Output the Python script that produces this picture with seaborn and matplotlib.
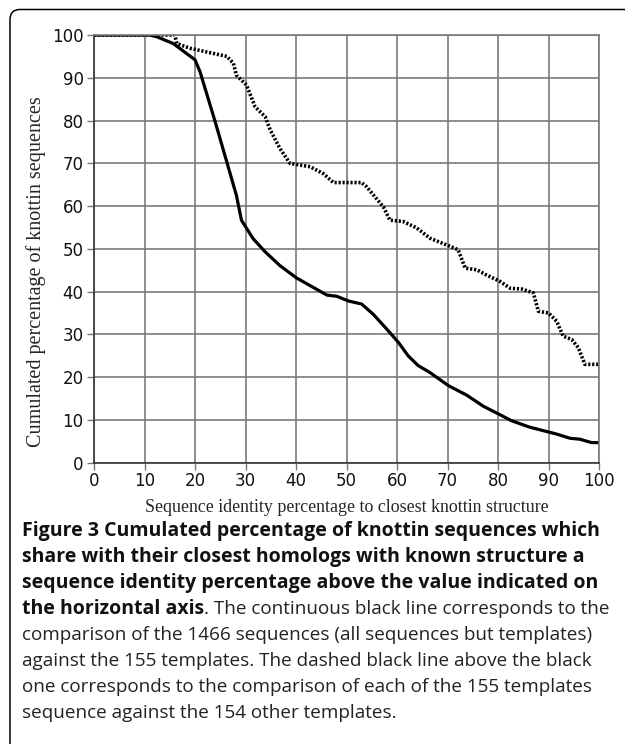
import matplotlib
matplotlib.use("Agg")
import matplotlib.pyplot as plt
import seaborn as sns
from matplotlib.path import Path
from matplotlib.patches import PathPatch
from matplotlib.transforms import IdentityTransform

# Solid line: 1466 sequences against the 155 templates
seq_identity = [0, 11, 12.4, 15.7, 18.3, 20, 21, 24, 26.3, 28.2, 29.2, 31.5, 33.9, 36.8,
                40.1, 43.4, 46.1, 48.1, 50.4, 53, 55.3, 58, 60.3, 62.2, 64.2, 66.5, 70.2,
                73.8, 77.1, 80.1, 82.7, 86.3, 89.6, 91.6, 94.3, 96.2, 98.5, 100]
seq_cumulated = [100, 100, 99.6, 98, 95.7, 94.2, 91.4, 79.7, 70.3, 62.5, 56.7, 52.4, 49.3,
                 46.1, 43.2, 41.0, 39.2, 38.9, 37.8, 37.1, 34.7, 31.2, 28.1, 25, 22.7, 21.1,
                 18, 15.8, 13.2, 11.4, 9.8, 8.3, 7.3, 6.7, 5.7, 5.5, 4.7, 4.7]

# Dotted line: each template against the 154 other templates
tpl_identity = [0, 16, 16.4, 19, 23.6, 26.3, 27.6, 28.2, 30.2, 31.9, 33.9, 34.9, 36.8, 38.8,
                42.8, 45.4, 47.4, 53, 54, 57.3, 58.6, 61.2, 63.9, 66.5, 70.5, 72.1, 73.5,
                75.8, 77.7, 80.4, 82.4, 84.7, 87, 88, 90, 91.6, 92.9, 94.6, 95.9, 97.2, 100]
tpl_cumulated = [100, 100, 98, 96.9, 95.7, 95, 93.4, 90.6, 88.3, 83.2, 80.9, 77.8, 73.5, 70,
                 69.2, 67.6, 65.5, 65.5, 64.5, 59.8, 56.7, 56.4, 54.9, 52.5, 50.6, 49.8, 45.5,
                 45.1, 43.9, 42.4, 40.8, 40.6, 39.7, 35.4, 35, 33.1, 29.6, 28.8, 26.9, 23, 23]

ticks = list(range(0, 101, 10))

sns.set_style("white")
fig = plt.figure(figsize=(6.25, 7.44), dpi=100)
ax = fig.add_axes([94 / 625, 1 - 462.7 / 744, 505 / 625, 427.7 / 744])

sns.lineplot(x=tpl_identity, y=tpl_cumulated, ax=ax, color="black", linewidth=2.6,
             estimator=None, sort=False, linestyle=(0, (0.6, 0.5)))
sns.lineplot(x=seq_identity, y=seq_cumulated, ax=ax, color="black", linewidth=2.3,
             estimator=None, sort=False)

ax.set_xlim(0, 100)
ax.set_ylim(0, 100)
ax.set_xticks(ticks)
ax.set_yticks(ticks)
ax.grid(True, color="#7a7a7a", linewidth=1.2)
ax.set_axisbelow(True)
for side in ["top", "right"]:
    ax.spines[side].set_color("#7a7a7a")
    ax.spines[side].set_linewidth(1.2)
for side in ["left", "bottom"]:
    ax.spines[side].set_color("#333333")
    ax.spines[side].set_linewidth(1.2)
ax.tick_params(axis="both", direction="out", length=5, width=1, color="#777777",
               labelsize=12, labelcolor="#111111", left=True, bottom=True)
ax.tick_params(axis="x", pad=2)
ax.tick_params(axis="y", pad=2.5)

ax.set_xlabel("Sequence identity percentage to closest knottin structure",
              family="Liberation Serif", fontsize=12.9, labelpad=6)
ax.set_ylabel("Cumulated percentage of knottin sequences",
              family="Liberation Serif", fontsize=14.5)
ax.yaxis.set_label_coords((46 - 94) / 505, (462.7 - 272) / 427.7)

# frame: top and left edges with a rounded corner (pixel coordinates)
r = 10
fx, fy = 10, 744 - 9.5
frame_path = Path([(fx, -5), (fx, fy - r), (fx, fy), (fx + r, fy), (630, fy)],
                  [Path.MOVETO, Path.LINETO, Path.CURVE3, Path.CURVE3, Path.LINETO])
frame = PathPatch(frame_path, fill=False, edgecolor="black", linewidth=1.1)
frame.set_transform(IdentityTransform())
fig.add_artist(frame)

# caption
cap_font = "Open Sans"
bold_size = 14
plain_size = 13.6
x0 = 22 / 625
base = 536
step = 26
bold_lines = ["Figure 3 Cumulated percentage of knottin sequences which",
              "share with their closest homologs with known structure a",
              "sequence identity percentage above the value indicated on"]
plain_lines = ["comparison of the 1466 sequences (all sequences but templates)",
               "against the 155 templates. The dashed black line above the black",
               "one corresponds to the comparison of each of the 155 templates",
               "sequence against the 154 other templates."]

for i, line in enumerate(bold_lines):
    fig.text(x0, 1 - (base + i * step) / 744, line, family=cap_font, fontsize=bold_size,
             fontweight="bold", va="baseline", color="#111111")

y4 = 1 - (base + 3 * step) / 744
t_bold = fig.text(x0, y4, "the horizontal axis", family=cap_font, fontsize=bold_size,
                  fontweight="bold", va="baseline", color="#111111")
fig.canvas.draw()
bb = t_bold.get_window_extent(renderer=fig.canvas.get_renderer())
fig.text(bb.x1 / fig.bbox.width, y4, ". The continuous black line corresponds to the",
         family=cap_font, fontsize=plain_size, va="baseline", color="#222222")

for i, line in enumerate(plain_lines):
    fig.text(x0, 1 - (base + (4 + i) * step) / 744, line, family=cap_font,
             fontsize=plain_size, va="baseline", color="#222222")

fig.savefig("out.png", dpi=100)
